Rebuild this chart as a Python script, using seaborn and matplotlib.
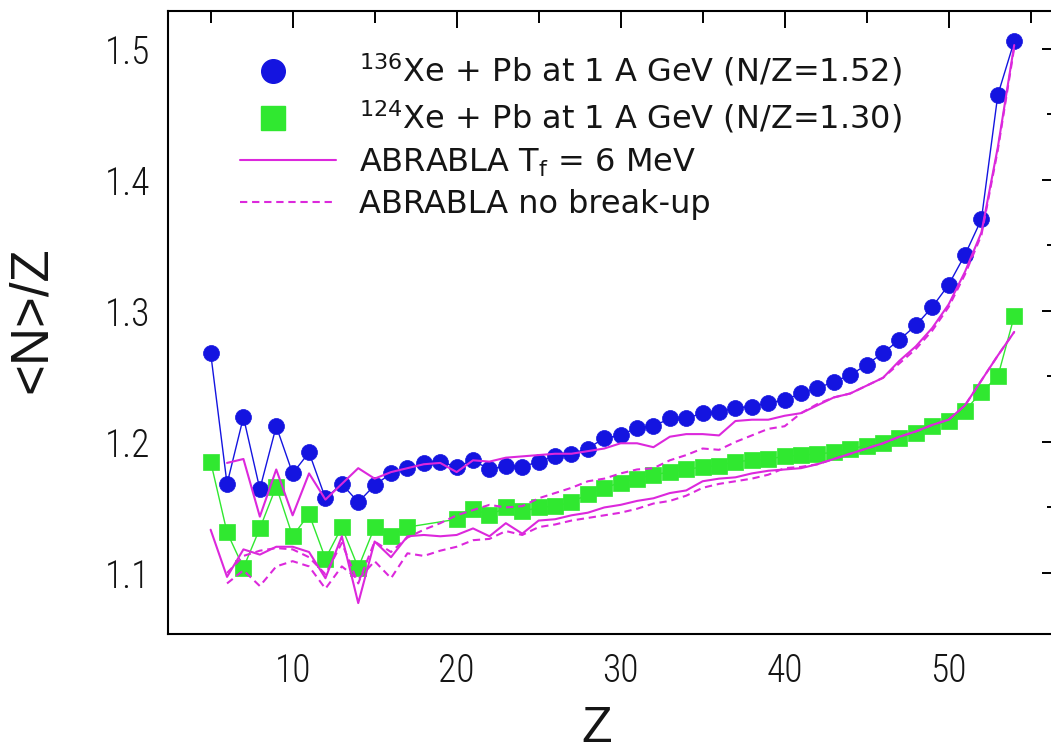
import matplotlib
matplotlib.use("Agg")
import matplotlib.pyplot as plt
from matplotlib import font_manager
from matplotlib.lines import Line2D
from matplotlib.legend_handler import HandlerLine2D
from matplotlib.ticker import AutoMinorLocator
import seaborn as sns

# ---------------- data ----------------
Z_136 = list(range(5, 55))
NZ_136 = [1.268, 1.168, 1.219, 1.164, 1.212, 1.176, 1.192, 1.157, 1.168, 1.154,
          1.167, 1.176, 1.180, 1.184, 1.185, 1.181, 1.186, 1.179, 1.182, 1.181,
          1.185, 1.189, 1.191, 1.195, 1.203, 1.205, 1.211, 1.212, 1.218, 1.218,
          1.222, 1.223, 1.226, 1.227, 1.230, 1.232, 1.237, 1.241, 1.246, 1.251,
          1.259, 1.268, 1.278, 1.289, 1.303, 1.320, 1.343, 1.370, 1.465, 1.506]

Z_124 = list(range(5, 18)) + list(range(20, 55))
NZ_124 = [1.185, 1.131, 1.104, 1.134, 1.166, 1.128, 1.145, 1.111, 1.135, 1.104,
          1.135, 1.128, 1.135,
          1.141, 1.149, 1.144, 1.150, 1.147, 1.150, 1.151, 1.154, 1.160, 1.165,
          1.169, 1.172, 1.175, 1.177, 1.179, 1.181, 1.182, 1.185, 1.186, 1.187,
          1.189, 1.190, 1.191, 1.192, 1.195, 1.197, 1.199, 1.203, 1.207, 1.212,
          1.216, 1.224, 1.238, 1.250, 1.296]

Z_MODEL_136 = list(range(6, 55))
ABRABLA_136_TF6 = [1.184, 1.187, 1.143, 1.179, 1.144, 1.176, 1.156, 1.168, 1.180,
                   1.172, 1.177, 1.180, 1.183, 1.184, 1.177, 1.186, 1.185, 1.188,
                   1.189, 1.190, 1.191, 1.191, 1.193, 1.195, 1.199, 1.199, 1.196,
                   1.204, 1.206, 1.206, 1.205, 1.216, 1.217, 1.217, 1.220, 1.222,
                   1.228, 1.234, 1.237, 1.243, 1.249, 1.262, 1.273, 1.287, 1.305,
                   1.330, 1.360, 1.425, 1.503]
ABRABLA_136_NOBREAK = [1.100, 1.113, 1.117, 1.119, 1.118, 1.112, 1.099, 1.123, 1.092,
                       1.124, 1.116, 1.127, 1.133, 1.138, 1.144, 1.148, 1.152, 1.150,
                       1.151, 1.157, 1.161, 1.165, 1.170, 1.172, 1.176, 1.179, 1.180,
                       1.186, 1.190, 1.195, 1.194, 1.200, 1.205, 1.210, 1.212, 1.222,
                       1.229, 1.234, 1.237, 1.243, 1.249, 1.260, 1.271, 1.285, 1.303,
                       1.328, 1.358, 1.423, 1.501]

Z_MODEL_124_TF6 = list(range(5, 55))
ABRABLA_124_TF6 = [1.133, 1.097, 1.118, 1.114, 1.120, 1.120, 1.116, 1.096, 1.128,
                   1.077, 1.124, 1.112, 1.128, 1.129, 1.128, 1.129, 1.134, 1.128,
                   1.138, 1.130, 1.140, 1.141, 1.144, 1.146, 1.150, 1.152, 1.155,
                   1.157, 1.161, 1.163, 1.170, 1.172, 1.173, 1.176, 1.178, 1.179,
                   1.180, 1.183, 1.187, 1.191, 1.195, 1.199, 1.204, 1.208, 1.213,
                   1.217, 1.228, 1.247, 1.266, 1.284]
Z_MODEL_124_NOBREAK = list(range(6, 55))
ABRABLA_124_NOBREAK = [1.092, 1.102, 1.090, 1.105, 1.109, 1.105, 1.088, 1.105, 1.095,
                       1.109, 1.096, 1.115, 1.113, 1.117, 1.120, 1.125, 1.126, 1.132,
                       1.129, 1.135, 1.137, 1.140, 1.142, 1.144, 1.146, 1.149, 1.153,
                       1.155, 1.159, 1.165, 1.168, 1.170, 1.172, 1.175, 1.180, 1.181,
                       1.183, 1.187, 1.191, 1.195, 1.199, 1.204, 1.208, 1.213, 1.217,
                       1.228, 1.247, 1.266, 1.284]

XTICKS = [10, 20, 30, 40, 50]
YTICKS = [1.1, 1.2, 1.3, 1.4, 1.5]
YTICK_LABELS = ["1.1", "1.2", "1.3", "1.4", "1.5"]
LEGEND_LABELS = [r"$^{136}$Xe + Pb at 1 A GeV (N/Z=1.52)",
                 r"$^{124}$Xe + Pb at 1 A GeV (N/Z=1.30)",
                 r"ABRABLA T$_{\mathrm{f}}$ = 6 MeV",
                 "ABRABLA no break-up"]
XLABEL = "Z"
YLABEL = "<N>/Z"

# ---------------- style ----------------
BLUE = "#1414e0"
GREEN = "#30e830"
MAGENTA = "#dc28dc"

sns.set_theme(style="white")
names = {f.name for f in font_manager.fontManager.ttflist}
tick_family = "DejaVu Sans"
for cand in ["Roboto Condensed", "Liberation Sans Narrow", "DejaVu Sans Condensed",
             "Liberation Sans"]:
    if cand in names:
        tick_family = cand
        break
label_family = "Liberation Sans" if "Liberation Sans" in names else "DejaVu Sans"
legend_family = "DejaVu Sans"

plt.rcParams["font.family"] = [legend_family]
plt.rcParams["mathtext.fontset"] = "dejavusans"

W, H = 1051, 751
fig = plt.figure(figsize=(W / 100, H / 100), dpi=100)
left_px, right_px, top_px, bottom_px = 168, 1059, 11, 634
ax = fig.add_axes([left_px / W, 1 - bottom_px / H,
                   (right_px - left_px) / W, (bottom_px - top_px) / H])

# experimental data
sns.lineplot(x=Z_136, y=NZ_136, ax=ax, color=BLUE, lw=1.0, marker="o",
             markersize=11.5, markerfacecolor=BLUE, markeredgecolor=BLUE,
             markeredgewidth=0.5, errorbar=None, sort=False, zorder=3)
sns.lineplot(x=Z_124, y=NZ_124, ax=ax, color=GREEN, lw=1.0, marker="s",
             markersize=11, markerfacecolor=GREEN, markeredgecolor=GREEN,
             markeredgewidth=0.5, errorbar=None, sort=False, zorder=3)

# model curves
dash = (0, (3.5, 2.3))
sns.lineplot(x=Z_MODEL_136, y=ABRABLA_136_TF6, ax=ax, color=MAGENTA, lw=1.5,
             errorbar=None, sort=False, zorder=4)
sns.lineplot(x=Z_MODEL_136, y=ABRABLA_136_NOBREAK, ax=ax, color=MAGENTA, lw=1.5,
             linestyle=dash, errorbar=None, sort=False, zorder=4)
sns.lineplot(x=Z_MODEL_124_TF6, y=ABRABLA_124_TF6, ax=ax, color=MAGENTA, lw=1.5,
             errorbar=None, sort=False, zorder=4)
sns.lineplot(x=Z_MODEL_124_NOBREAK, y=ABRABLA_124_NOBREAK, ax=ax, color=MAGENTA,
             lw=1.5, linestyle=dash, errorbar=None, sort=False, zorder=4)

# axes
ax.set_xlim(2.4, 56.73)
ax.set_ylim(1.0534, 1.529)
ax.set_xticks(XTICKS)
ax.set_xticklabels([str(t) for t in XTICKS])
ax.set_yticks(YTICKS)
ax.set_yticklabels(YTICK_LABELS)
ax.xaxis.set_minor_locator(AutoMinorLocator(2))
ax.yaxis.set_minor_locator(AutoMinorLocator(2))
ax.tick_params(which="both", direction="in", top=True, right=True,
               color="black", width=1.4)
ax.tick_params(which="major", length=12.5, labelsize=27, pad=13, labelcolor="#151515")
ax.tick_params(which="minor", length=8.5)
for lab in ax.get_xticklabels() + ax.get_yticklabels():
    lab.set_family(tick_family)
    lab.set_fontweight("light")
for s in ax.spines.values():
    s.set_color("black")
    s.set_linewidth(1.5)
ax.grid(False)

ax.set_xlabel(XLABEL, fontsize=36, color="#151515", family=label_family,
              style="normal")
ax.set_ylabel(YLABEL, fontsize=38, color="#151515", family=label_family,
              style="normal")
ax.xaxis.set_label_coords((597 - left_px) / (right_px - left_px),
                          (bottom_px - 706) / (bottom_px - top_px))
ax.yaxis.set_label_coords((57 - left_px) / (right_px - left_px), 0.504)


class ShiftedMarkerHandler(HandlerLine2D):
    """Draw a legend marker left of the handle centre, as in the reference."""

    def __init__(self, frac=0.34, **kw):
        super().__init__(**kw)
        self.frac = frac

    def create_artists(self, legend, orig_handle, xdescent, ydescent, width,
                       height, fontsize, trans):
        artists = super().create_artists(legend, orig_handle, xdescent, ydescent,
                                         width, height, fontsize, trans)
        for a in artists:
            if a.get_marker() not in (None, "None", "none", ""):
                a.set_xdata([self.frac * width - xdescent])
        return artists


handles = [
    Line2D([], [], ls="none", marker="o", markersize=17, color=BLUE),
    Line2D([], [], ls="none", marker="s", markersize=17, color=GREEN),
    Line2D([], [], color=MAGENTA, lw=1.5),
    Line2D([], [], color=MAGENTA, lw=1.5, linestyle=dash),
]
leg = ax.legend(handles, LEGEND_LABELS, loc="upper left",
                handler_map={handles[0]: ShiftedMarkerHandler(),
                             handles[1]: ShiftedMarkerHandler()},
                bbox_to_anchor=((240 - left_px) / (right_px - left_px),
                                (bottom_px - 52) / (bottom_px - top_px)),
                frameon=False, prop={"family": legend_family, "size": 23},
                handlelength=3.0, handletextpad=0.72,
                labelspacing=0.33, borderaxespad=0, borderpad=0)
for t in leg.get_texts():
    t.set_color("#151515")

fig.savefig("out.png", dpi=100)
